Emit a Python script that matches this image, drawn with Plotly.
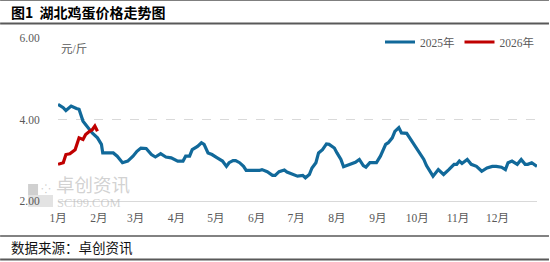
import pandas as pd
import plotly.graph_objects as go

# ---- data ----
days_2025 = [0, 4, 6, 10, 14, 16, 19, 23, 26, 30, 33, 34, 38, 42, 45, 49, 53, 57, 60, 63,
             67, 71, 74, 78, 82, 86, 91, 95, 97, 100, 102, 106, 109, 111, 114, 117, 121, 125,
             128, 130, 133, 135, 138, 141, 143, 148, 153, 155, 159, 163, 165, 168, 172, 174,
             178, 182, 186, 188, 191, 193, 196, 198, 201, 204, 206, 210, 212, 215, 217, 220,
             224, 226, 229, 232, 234, 237, 242, 245, 249, 251, 254, 256, 259, 261, 265, 268,
             272, 275, 278, 280, 283, 285, 289, 293, 297, 301, 303, 305, 307, 311, 314, 318,
             322, 326, 330, 333, 337, 340, 342, 345, 349, 352, 355, 357, 360, 364]
price_2025 = [4.37, 4.29, 4.22, 4.33, 4.27, 4.25, 3.96, 3.80, 3.67, 3.55, 3.39, 3.18, 3.18,
              3.18, 3.10, 2.94, 2.98, 3.10, 3.22, 3.30, 3.29, 3.14, 3.08, 3.16, 3.08, 3.06,
              2.98, 2.98, 3.10, 3.10, 3.26, 3.34, 3.43, 3.39, 3.18, 3.14, 3.06, 2.98, 2.85,
              2.94, 2.99, 2.99, 2.94, 2.85, 2.75, 2.75, 2.75, 2.77, 2.72, 2.63, 2.63, 2.72,
              2.76, 2.71, 2.65, 2.61, 2.63, 2.57, 2.65, 2.81, 2.94, 3.18, 3.26, 3.40, 3.39,
              3.30, 3.18, 3.02, 2.84, 2.88, 2.94, 2.95, 3.02, 2.87, 2.83, 2.94, 2.94, 3.10,
              3.39, 3.43, 3.55, 3.71, 3.80, 3.67, 3.66, 3.51, 3.30, 3.14, 3.02, 2.87, 2.69,
              2.61, 2.77, 2.65, 2.77, 2.90, 2.90, 2.98, 2.92, 3.02, 2.90, 2.85, 2.73, 2.81,
              2.85, 2.85, 2.83, 2.77, 2.94, 2.98, 2.90, 3.02, 2.90, 2.90, 2.94, 2.85]
days_2026 = [0, 4, 6, 9, 13, 16, 19, 21, 24, 26, 28, 30]
price_2026 = [2.90, 2.94, 3.14, 3.16, 3.26, 3.55, 3.51, 3.63, 3.71, 3.75, 3.84, 3.71]
month_labels = ["1月", "2月", "3月", "4月", "5月", "6月", "7月", "8月", "9月", "10月", "11月", "12月"]
y_ticks = [2, 4, 6]

base = pd.Timestamp("2025-01-01")
x25 = base + pd.to_timedelta(days_2025, unit="D")
x26 = base + pd.to_timedelta(days_2026, unit="D")
month_starts = pd.date_range("2025-01-01", periods=12, freq="MS")

W, H = 550, 262
L, R, T, B = 58, 12, 38, 61
PW, PH = W - L - R, H - T - B


def px(x):
    return (x - L) / PW


def py(y):
    return (H - B - y) / PH


CJK = "Liberation Serif, Noto Sans CJK SC"
GRAY = "#595959"

fig = go.Figure()
fig.add_trace(go.Scatter(x=x25, y=price_2025, mode="lines", name="2025年",
                         line=dict(color="#11699a", width=3.2)))
fig.add_trace(go.Scatter(x=x26, y=price_2026, mode="lines", name="2026年",
                         line=dict(color="#c00000", width=3.2)))

fig.update_layout(
    width=W, height=H,
    margin=dict(l=L, r=R, t=T, b=B),
    paper_bgcolor="white", plot_bgcolor="white",
    font=dict(family=CJK, color=GRAY, size=11),
    showlegend=True,
    legend=dict(orientation="h", x=px(380), y=py(42), xanchor="left", yanchor="middle",
                bgcolor="rgba(0,0,0,0)", font=dict(size=11.5, color=GRAY),
                itemwidth=30, tracegroupgap=0),
)
fig.update_xaxes(type="date", range=[base, base + pd.Timedelta(days=364)],
                 tickvals=month_starts, ticktext=month_labels,
                 showgrid=False, showline=True, linecolor="#d9d9d9", linewidth=1,
                 ticks="outside", ticklen=6, tickcolor="rgba(0,0,0,0)",
                 tickfont=dict(size=11.5, color=GRAY, family=CJK))
fig.update_yaxes(range=[2, 6], tickvals=y_ticks, tickformat=".2f",
                 showgrid=True, gridcolor="#d9d9d9", griddash="dash", gridwidth=1,
                 zeroline=False, showline=False,
                 ticks="outside", ticklen=15, tickcolor="rgba(0,0,0,0)",
                 tickfont=dict(size=11.5, color=GRAY, family=CJK))

shapes = [
    dict(type="line", xref="paper", yref="paper", x0=px(0), x1=px(W), y0=py(0.5), y1=py(0.5),
         line=dict(color="#7f7f7f", width=1)),
    dict(type="line", xref="paper", yref="paper", x0=px(0), x1=px(W), y0=py(23.5), y1=py(23.5),
         line=dict(color="#595959", width=2)),
    dict(type="line", xref="paper", yref="paper", x0=px(0), x1=px(W), y0=py(236), y1=py(236),
         line=dict(color="#595959", width=1.5)),
    dict(type="line", xref="paper", yref="paper", x0=px(0), x1=px(W), y0=py(259.5), y1=py(259.5),
         line=dict(color="#595959", width=2)),
    # watermark logo blocks
    dict(type="rect", xref="paper", yref="paper", x0=px(28), x1=px(38), y0=py(195), y1=py(184),
         fillcolor="#d0d0d0", line=dict(width=0), layer="below"),
    dict(type="rect", xref="paper", yref="paper", x0=px(28), x1=px(53), y0=py(207), y1=py(195),
         fillcolor="#e3e3e3", line=dict(width=0), layer="below"),
]
fig.update_layout(shapes=shapes)

ann = [
    dict(text="<b>图1  湖北鸡蛋价格走势图</b>", x=px(9), y=py(12), xanchor="left", yanchor="middle",
         font=dict(size=14, color="#000000", family="Noto Sans CJK SC")),
    dict(text="元/斤", x=px(59), y=py(49), xanchor="left", yanchor="middle",
         font=dict(size=11.5, color=GRAY, family=CJK)),
    dict(text="数据来源：卓创资讯", x=px(9), y=py(247), xanchor="left", yanchor="middle",
         font=dict(size=13.5, color="#111111", family="Noto Sans CJK SC")),
    dict(text="卓创资讯", x=px(54), y=py(184), xanchor="left", yanchor="middle",
         font=dict(size=18.5, color="rgba(190,190,190,0.7)", family="Noto Sans CJK SC")),
    dict(text="SCI99.COM", x=px(55), y=py(203), xanchor="left", yanchor="middle",
         font=dict(size=12.5, color="rgba(190,190,190,0.7)", family="Liberation Serif")),
    dict(text="⁘", x=px(39), y=py(189), xanchor="left", yanchor="middle",
         font=dict(size=12, color="rgba(190,190,190,0.8)")),
]
for a in ann:
    a.update(xref="paper", yref="paper", showarrow=False)
fig.update_layout(annotations=ann)

fig.write_html("out.html")
